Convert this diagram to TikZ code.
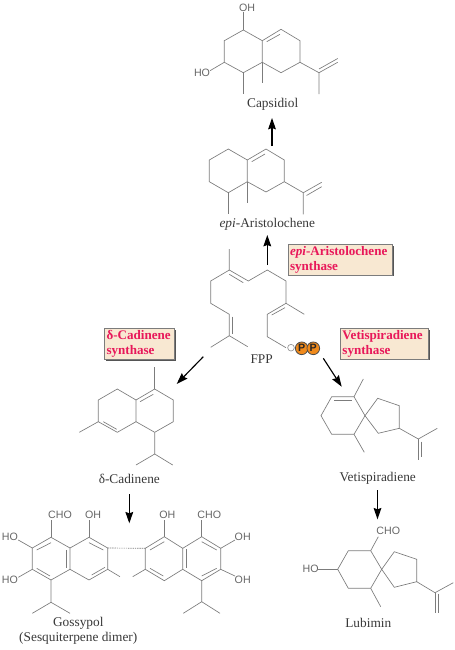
\documentclass[tikz,border=0pt]{standalone}
\usepackage{fontspec}
\setmainfont{Liberation Serif}
\setsansfont{Liberation Sans}
\usetikzlibrary{arrows.meta}
\definecolor{bondc}{HTML}{7C7C7C}
\definecolor{txtc}{HTML}{383838}
\definecolor{atomc}{HTML}{666666}
\definecolor{enzc}{HTML}{E8185A}
\definecolor{boxc}{HTML}{F8E8D2}
\definecolor{shadc}{HTML}{555555}
\definecolor{ppc}{HTML}{F08A1C}
\tikzset{
  bond/.style={draw=bondc,line width=0.5pt},
  rxn/.style={draw=black,line width=0.85pt,-{Stealth[length=8.5pt,width=5.8pt,inset=1pt]}},
  lbl/.style={text=txtc,font=\fontsize{10}{11}\selectfont,inner sep=0pt,align=center},
  atom/.style={text=atomc,font=\sffamily\fontsize{8}{10}\selectfont,inner sep=0pt},
  enz/.style={draw=bondc,line width=0.4pt,fill=boxc,text=enzc,
    font=\fontsize{9.8}{11}\selectfont\bfseries,align=left,inner sep=0pt,anchor=north west},
  shad/.style={fill=shadc,draw=none},
  pcirc/.style={circle,draw=black!70,line width=0.6pt,fill=ppc,minimum size=9.5pt,inner sep=0pt,
    font=\sffamily\fontsize{8}{9}\selectfont\bfseries,text=black!85},
  ocirc/.style={circle,draw=bondc!80,line width=0.5pt,fill=white,minimum size=5pt,inner sep=0pt}
}
\begin{document}
\begin{tikzpicture}[x=0.75pt,y=-0.75pt]
\useasboundingbox (0,0) rectangle (454,650);

% --- Capsidiol
\draw[bond] (243.3,30)--(224.3,40.7)--(224.3,62.3)--(243.3,72.7)--(262.3,62.3)--(262.3,40.7)--cycle;
\draw[bond] (262.3,40.7)--(281,29.3)--(300,40.7)--(300,62.3)--(281,72.7)--(262.3,62.3);
\draw[bond] (266.7,41.7)--(280,34.3);
\draw[bond] (243.3,30)--(243.3,12);
\draw[bond] (224.3,62.3)--(210,70.7);
\draw[bond] (262.3,62.3)--(262.3,83.3);
\draw[bond] (243.3,72.7)--(243.3,94);
\draw[bond] (300,62.3)--(319,72.7)--(319,94);
\draw[bond] (319,72.7)--(337.7,62.3);
\draw[bond] (319,69)--(337.7,58.5);
\node[atom] (capOH) at (247,7.5) {OH};
\node[atom] (capHO) at (202,72.7) {HO};
\node[lbl] (capsidiol) at (272.7,104.5) {Capsidiol};

% --- epi-Aristolochene
\draw[bond] (228.3,149)--(209.3,160)--(209.3,181.7)--(228.3,192.7)--(247.3,181.7)--(247.3,160)--cycle;
\draw[bond] (247.3,160)--(266,149)--(284.3,160)--(284.3,181.7)--(266,192)--(247.3,181.7);
\draw[bond] (251.7,161.7)--(265,154);
\draw[bond] (247.3,181.7)--(247.3,203.3);
\draw[bond] (228.3,192.7)--(228.3,214.3);
\draw[bond] (284.3,181.7)--(303.3,192.7)--(303.3,214.3);
\draw[bond] (303.3,192.7)--(321.7,182.3);
\draw[bond] (306.5,195.5)--(321.7,186.7);
\node[lbl] (aristo) at (267.3,224.5) {\textit{epi}-Aristolochene};

% --- FPP
\draw[bond] (229.3,249)--(229.3,270)--(210.7,281)--(210.7,303.3)--(229.3,314.3)--(229.3,335.7)--(210.7,347.3);
\draw[bond] (229.3,335.7)--(247.7,346.7);
\draw[bond] (232.7,316.5)--(232.7,333.5);
\draw[bond] (229.3,270)--(248.3,281)--(267.3,270)--(286,281)--(286,303.3)--(304.3,314.3);
\draw[bond] (229.3,274.3)--(243.3,282.7);
\draw[bond] (286,303.3)--(267.3,314.3)--(267.3,336.7)--(286,347.7);
\draw[bond] (285,307.7)--(271.7,315);
\node[ocirc] (oatom) at (291,347.7) {};
\node[pcirc] (p1) at (301.7,348.3) {P};
\node[pcirc] (p2) at (313.3,348.3) {P};
\node[lbl] (fpp) at (261.7,359) {FPP};

% --- delta-Cadinene
\draw[bond] (117.3,389)--(98.3,400)--(98.3,421.7)--(117.3,432.3)--(136,421.7)--(136,400)--cycle;
\draw[bond] (136,400)--(154.7,389)--(173.3,400)--(173.3,421.7)--(154.7,432.3)--(136,421.7);
\draw[bond] (140,401.7)--(153.3,394.3);
\draw[bond] (103.3,421.7)--(116.7,429.3);
\draw[bond] (154.7,389)--(154.7,367.3);
\draw[bond] (98.3,421.7)--(79.3,432.3);
\draw[bond] (154.7,432.3)--(154.7,454)--(136,465);
\draw[bond] (154.7,454)--(172.7,465);
\node[lbl] (cadinene) at (129.3,479) {δ-Cadinene};

% --- Gossypol, left half
\draw[bond] (51,537.3)--(32.3,548)--(32.3,569.3)--(51,580)--(70,569.3)--(70,548)--cycle;
\draw[bond] (70,548)--(89,537.3)--(107.7,548)--(107.7,569.3)--(89,580)--(70,569.3);
\draw[bond] (51,542.7)--(36.7,550);
\draw[bond] (36.7,568.3)--(50,576);
\draw[bond] (66.7,550)--(66.7,568.3);
\draw[bond] (89,542.7)--(103.3,550);
\draw[bond] (91.7,575)--(105,567.3);
\draw[bond] (51,537.3)--(51,520);
\draw[bond] (89,537.3)--(89,520);
\draw[bond] (32.3,548)--(18.3,540);
\draw[bond] (32.3,569.3)--(18.3,577.3);
\draw[bond] (51,580)--(51,602.3)--(32.3,613.3);
\draw[bond] (51,602.3)--(70,613.3);
\draw[bond] (107.7,569.3)--(120,576.7);
\draw[bond,dash pattern=on 1pt off 0.7pt] (107.7,548)--(145.3,548.3);
\node[atom] (gCHOl) at (60,515) {CHO};
\node[atom] (gOHl) at (93,515) {OH};
\node[atom] (gHO1) at (10,536.7) {HO};
\node[atom] (gHO2) at (10,580) {HO};

% --- Gossypol, right half
\draw[bond] (164.3,536.7)--(145.3,548.3)--(145.3,569.3)--(164.3,580.7)--(182.7,569.3)--(182.7,548.3)--cycle;
\draw[bond] (182.7,548.3)--(201.7,536.7)--(220.7,548.3)--(220.7,569.3)--(201.7,580.7)--(182.7,569.3);
\draw[bond] (164.3,541.7)--(150,550);
\draw[bond] (150,568.3)--(163.3,576);
\draw[bond] (186,549.3)--(186,568.3);
\draw[bond] (201.7,541.7)--(216.7,550);
\draw[bond] (201.7,576)--(216.7,568.3);
\draw[bond] (164.3,536.7)--(164.3,520);
\draw[bond] (201.7,536.7)--(201.7,520);
\draw[bond] (220.7,548.3)--(235,540);
\draw[bond] (220.7,569.3)--(235,576);
\draw[bond] (201.7,580.7)--(201.7,601.7)--(183.3,613.3);
\draw[bond] (201.7,601.7)--(220,613.3);
\draw[bond] (145.3,569.3)--(132.7,576.7);
\node[atom] (gOHr) at (167.3,515) {OH};
\node[atom] (gCHOr) at (209.3,515) {CHO};
\node[atom] (gOH1) at (242.7,536.7) {OH};
\node[atom] (gOH2) at (242.7,580) {OH};
\node[lbl] (gossypol) at (78.3,630.5) {Gossypol\\(Sesquiterpene dimer)};

% --- Vetispiradiene
\draw[bond] (331.7,396.7)--(354,396.7)--(365,415.7)--(354,434.3)--(331.7,434.3)--(321,415.7)--cycle;
\draw[bond] (334,400)--(351.7,400);
\draw[bond] (354,396.7)--(363.3,379);
\draw[bond] (354,434.3)--(364.3,452.3);
\draw[bond] (365,415.7)--(377.7,398.3)--(399.3,405.7)--(399.3,428.3)--(378.3,433.3)--cycle;
\draw[bond] (399.3,428.3)--(418.3,439)--(437.3,428.3);
\draw[bond] (418.3,439)--(418.3,460);
\draw[bond] (421.7,441.7)--(421.7,457.3);
\node[lbl] (vetis) at (377.7,478.5) {Vetispiradiene};

% --- Lubimin
\draw[bond] (348.3,550.7)--(370.7,550.7)--(381.7,569.3)--(370.7,588.3)--(348.3,588.3)--(337.7,569.3)--cycle;
\draw[bond] (370.7,550.7)--(378.3,536.7);
\draw[bond] (337.7,569.3)--(318.3,569.3);
\draw[bond] (370.7,588.3)--(380.7,606.7);
\draw[bond] (381.7,569.3)--(394.3,551.7)--(416.7,559.3)--(416.7,581.7)--(394.3,587.3)--cycle;
\draw[bond] (416.7,581.7)--(435,592.7)--(453.3,582.7);
\draw[bond] (435,592.7)--(435,613.3);
\draw[bond] (438.3,593.5)--(438.3,612.7);
\node[atom] (lCHO) at (388.3,530.7) {CHO};
\node[atom] (lHO) at (310.7,569.3) {HO};
\node[lbl] (lubimin) at (368.3,623.3) {Lubimin};

% --- Enzyme boxes
\fill[shad] (289,245.8) rectangle (393.9,276.2);
\node[enz,minimum width=78.2pt,minimum height=22.8pt,text width=75pt] (box1) at (287.7,244.3) {\textit{epi}-Aristolochene\\synthase};
\fill[shad] (341.3,329.8) rectangle (429.5,360.2);
\node[enz,minimum width=65.8pt,minimum height=22.8pt,text width=62.5pt] (box2) at (340,328.3) {Vetispiradiene\\synthase};
\fill[shad] (105.5,329.8) rectangle (176.2,360.5);
\node[enz,minimum width=52.5pt,minimum height=22.8pt,text width=49.5pt] (box3) at (104.3,328.3) {δ-Cadinene\\synthase};

% --- Reaction arrows
\coordinate (a1s) at (272,146);   \coordinate (a1e) at (272,118);
\coordinate (a2s) at (267.3,265); \coordinate (a2e) at (267.3,235);
\coordinate (a3s) at (203.3,356.7); \coordinate (a3e) at (176.7,384);
\coordinate (a4s) at (323.3,358.3); \coordinate (a4e) at (341.7,386.7);
\coordinate (a5s) at (129.3,494); \coordinate (a5e) at (129.3,523.3);
\coordinate (a6s) at (377.5,490); \coordinate (a6e) at (377.5,519.3);
\draw[rxn] (a1s)--(a1e);
\draw[rxn] (a2s)--(a2e);
\draw[rxn] (a3s)--(a3e);
\draw[rxn] (a4s)--(a4e);
\draw[rxn] (a5s)--(a5e);
\draw[rxn] (a6s)--(a6e);
\end{tikzpicture}
\end{document}
